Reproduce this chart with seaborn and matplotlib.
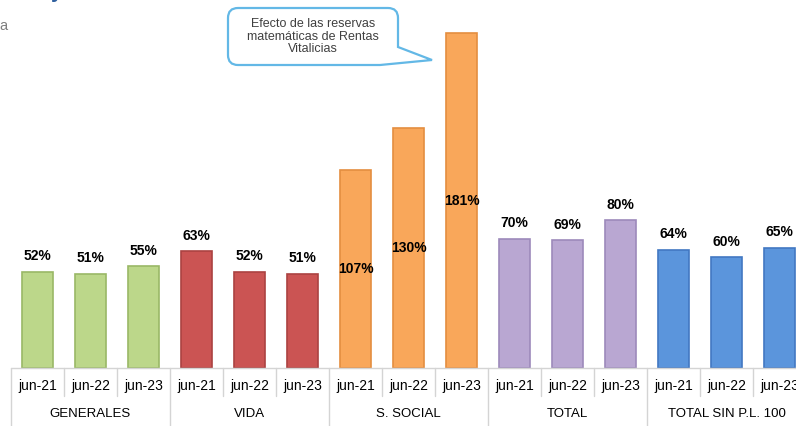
import matplotlib
matplotlib.use("Agg")
import matplotlib.pyplot as plt
import matplotlib.transforms as mtransforms
from matplotlib.path import Path
from matplotlib.patches import PathPatch
import seaborn as sns
import pandas as pd

# ---- data ----
groups = ["GENERALES", "VIDA", "S. SOCIAL", "TOTAL", "TOTAL SIN P.L. 100"]
periods = ["jun-21", "jun-22", "jun-23"]
generales = [52, 51, 55]
vida = [63, 52, 51]
s_social = [107, 130, 181]
total = [70, 69, 80]
total_sin_pl = [64, 60, 65]
callout_text = "Efecto de las reservas\nmatemáticas de Rentas\nVitalicias"

values = [generales, vida, s_social, total, total_sin_pl]
rows = []
for g, vals in zip(groups, values):
    for p, v in zip(periods, vals):
        rows.append({"slot": f"{g}|{p}", "group": g, "period": p, "value": v})
df = pd.DataFrame(rows)

face = {"GENERALES": "#bcd78a", "VIDA": "#cb5453", "S. SOCIAL": "#f9a75a",
        "TOTAL": "#b9a7d2", "TOTAL SIN P.L. 100": "#5b95dc"}
edge = {"GENERALES": "#9ab866", "VIDA": "#ab4241", "S. SOCIAL": "#e48e40",
        "TOTAL": "#9d8abb", "TOTAL SIN P.L. 100": "#4278c2"}

sns.set_theme(style="white")
plt.rcParams["font.family"] = ["Liberation Sans", "DejaVu Sans"]

W, H = 796, 426
fig = plt.figure(figsize=(W / 100, H / 100), dpi=100)
# axes: slots of 53 px starting at x=11, baseline at y=368 from top
left_px, slot_px, base_px = 11, 53, 368
ax = fig.add_axes([left_px / W, (H - base_px) / H, 15 * slot_px / W, base_px / H])

sns.barplot(data=df, x="slot", y="value", hue="group", hue_order=groups,
            palette=face, dodge=False, width=0.6, legend=False, ax=ax,
            saturation=1, order=list(df["slot"]))

for cont, g in zip(ax.containers, groups):
    for bar in cont:
        bar.set_edgecolor(edge[g])
        bar.set_linewidth(1.2)
    if g == "S. SOCIAL":
        ax.bar_label(cont, labels=[f"{v:.0f}%" for v in cont.datavalues],
                     label_type="center", fontsize=10, fontweight="bold", color="black")
    else:
        ax.bar_label(cont, labels=[f"{v:.0f}%" for v in cont.datavalues],
                     padding=6, fontsize=10, fontweight="bold", color="black")

ax.set_xlim(-0.5, 14.5)
ax.set_ylim(0, base_px / 1.85)
ax.set_xticks([])
ax.set_yticks([])
ax.set_xlabel("")
ax.set_ylabel("")
for s in ax.spines.values():
    s.set_visible(False)

# category axis separators and labels
trans = mtransforms.blended_transform_factory(ax.transData, ax.transAxes)
sep_col = "#d4d4d4"
ax.plot([-0.5, 14.5], [0, 0], transform=trans, color=sep_col, lw=1, clip_on=False)
for i in range(16):
    x = i - 0.5
    if i % 3 == 0:
        y1 = -60 / base_px
    else:
        y1 = -28 / base_px
    ax.plot([x, x], [0, y1], transform=trans, color=sep_col, lw=1, clip_on=False)

for i, r in df.iterrows():
    ax.text(i, -18 / base_px, r["period"], transform=trans, ha="center", va="center",
            fontsize=10, color="black")
for gi, g in enumerate(groups):
    ax.text(gi * 3 + 1, -46 / base_px, g, transform=trans, ha="center", va="center",
            fontsize=9.5, color="black")

# callout (figure pixel coordinates)
def P(x, y):
    return (x, H - y)

x0, x1, y0, y1, r = 228, 398, 8, 65, 10
verts = [P(x0 + r, y0), P(x1 - r, y0), P(x1, y0), P(x1, y0 + r),
         P(x1, 47), P(432, 60), P(380, y1),
         P(x0 + r, y1), P(x0, y1), P(x0, y1 - r),
         P(x0, y0 + r), P(x0, y0), P(x0 + r, y0), P(x0 + r, y0)]
codes = [Path.MOVETO, Path.LINETO, Path.CURVE3, Path.CURVE3,
         Path.LINETO, Path.LINETO, Path.LINETO,
         Path.LINETO, Path.CURVE3, Path.CURVE3,
         Path.LINETO, Path.CURVE3, Path.CURVE3, Path.CLOSEPOLY]
patch = PathPatch(Path(verts, codes), facecolor="white", edgecolor="#63b8e6", lw=1.6,
                  zorder=10)
patch.set_transform(mtransforms.IdentityTransform())
fig.patches.append(patch)
fig.text((x0 + x1) / 2 / W, 1 - 36.5 / H, callout_text, ha="center", va="center",
         fontsize=9, color="#404040", linespacing=1.1, zorder=11)

# cropped title remnants
fig.text(-1 / W, 1 - 30 / H, "a", fontsize=10.5, color="#7f7f7f", va="baseline", ha="left")
fig.text(51 / W, 1 + 2 / H, "y", fontsize=15, color="#2e5f9e", fontweight="bold",
         va="baseline", ha="left")

fig.savefig("out.png", dpi=100)
